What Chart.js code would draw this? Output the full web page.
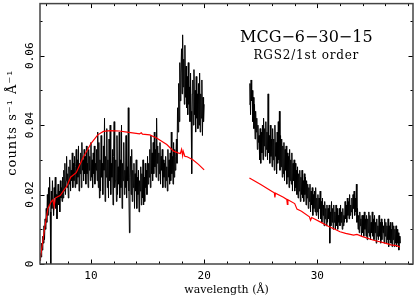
<!DOCTYPE html>
<html><head><meta charset="utf-8">
<script src="https://cdn.jsdelivr.net/npm/chart.js@4"></script>
<style>html,body{margin:0;padding:0;background:#fff;}canvas{display:block;}</style>
</head><body>
<div style="width:415px;height:295px;position:relative"><canvas id="c" width="415" height="295"></canvas></div>
<script>
// ---- data ----
const specAStart = 5.5;     // first bin wavelength (Å), short-wavelength segment
const specBStart = 24.0;    // first bin wavelength (Å), long-wavelength segment
const binWidth = 0.05;      // Å
const specA = [
 0.001,0.003,0.002,0.006,0.004,0.008,0.006,0.011,0.007,0.013,0.010,0.016,0.012,0.020,0.014,0.022,0.017,0.025,0.015,0.000,
 0.021,0.016,0.024,0.018,0.014,0.022,0.019,0.025,0.016,0.020,0.013,0.019,0.023,0.017,0.021,0.015,0.024,0.019,0.022,0.018,
 0.025,0.019,0.027,0.021,0.029,0.020,0.024,0.031,0.022,0.026,0.019,0.028,0.023,0.030,0.021,0.027,0.024,0.032,0.022,0.029,
 0.024,0.031,0.022,0.028,0.033,0.023,0.030,0.025,0.034,0.021,0.029,0.026,0.032,0.022,0.035,0.027,0.030,0.024,0.033,0.026,
 0.031,0.023,0.034,0.026,0.029,0.022,0.033,0.027,0.031,0.024,0.035,0.025,0.030,0.022,0.032,0.026,0.034,0.023,0.029,0.027,
 0.033,0.024,0.038,0.022,0.035,0.019,0.030,0.021,0.037,0.025,0.029,0.020,0.034,0.027,0.042,0.018,0.031,0.025,0.039,0.022,
 0.030,0.019,0.036,0.024,0.040,0.020,0.029,0.025,0.033,0.017,0.031,0.041,0.022,0.024,0.030,0.018,0.037,0.020,0.028,0.023,
 0.038,0.019,0.030,0.022,0.040,0.016,0.029,0.024,0.035,0.020,0.027,0.022,0.037,0.019,0.028,0.024,0.045,0.021,0.009,0.025,
 0.031,0.020,0.033,0.018,0.027,0.022,0.029,0.016,0.026,0.021,0.030,0.016,0.025,0.020,0.027,0.015,0.024,0.021,0.028,0.017,
 0.026,0.019,0.030,0.017,0.025,0.018,0.029,0.022,0.027,0.020,0.031,0.023,0.029,0.025,0.033,0.022,0.037,0.026,0.032,0.024,
 0.035,0.026,0.038,0.028,0.033,0.025,0.042,0.029,0.034,0.024,0.032,0.026,0.035,0.023,0.031,0.027,0.033,0.022,0.030,0.025,
 0.029,0.022,0.031,0.024,0.028,0.021,0.033,0.025,0.030,0.023,0.032,0.024,0.038,0.026,0.031,0.023,0.035,0.025,0.033,0.027,
 0.031,0.036,0.029,0.045,0.038,0.052,0.041,0.058,0.047,0.055,0.062,0.049,0.066,0.051,0.059,0.046,0.063,0.048,0.057,0.045,
 0.054,0.043,0.058,0.046,0.051,0.041,0.055,0.044,0.026,0.049,0.053,0.040,0.056,0.043,0.050,0.038,0.054,0.042,0.049,0.039,
 0.052,0.040,0.055,0.038,0.049,0.042,0.053,0.037,0.048,0.041,0.046
];
const specB = [
 0.046,0.052,0.043,0.053,0.047,0.050,0.041,0.048,0.039,0.046,0.036,0.044,0.038,0.042,0.033,0.040,0.035,0.037,0.030,0.039,
 0.029,0.038,0.032,0.040,0.030,0.042,0.034,0.039,0.031,0.041,0.033,0.038,0.030,0.049,0.032,0.037,0.029,0.040,0.031,0.036,
 0.028,0.039,0.030,0.036,0.027,0.040,0.031,0.035,0.026,0.038,0.029,0.041,0.030,0.044,0.027,0.037,0.028,0.036,0.025,0.034,
 0.026,0.035,0.024,0.033,0.027,0.034,0.023,0.032,0.025,0.031,0.022,0.033,0.024,0.030,0.023,0.032,0.021,0.029,0.024,0.030,
 0.021,0.029,0.022,0.027,0.020,0.028,0.019,0.026,0.021,0.027,0.018,0.025,0.020,0.027,0.019,0.024,0.018,0.026,0.020,0.025,
 0.017,0.024,0.019,0.023,0.016,0.022,0.018,0.023,0.015,0.021,0.017,0.022,0.014,0.020,0.016,0.021,0.015,0.022,0.014,0.019,
 0.015,0.020,0.013,0.019,0.016,0.021,0.013,0.018,0.012,0.019,0.014,0.017,0.011,0.018,0.013,0.016,0.011,0.017,0.012,0.016,
 0.013,0.017,0.006,0.015,0.011,0.018,0.012,0.016,0.010,0.017,0.012,0.015,0.010,0.017,0.011,0.016,0.010,0.014,0.012,0.016,
 0.011,0.017,0.012,0.015,0.010,0.016,0.011,0.014,0.012,0.018,0.013,0.017,0.012,0.019,0.014,0.018,0.013,0.020,0.014,0.017,
 0.015,0.019,0.013,0.020,0.016,0.021,0.014,0.019,0.015,0.023,0.012,0.016,0.010,0.014,0.009,0.015,0.011,0.013,0.008,0.014,
 0.009,0.014,0.008,0.015,0.010,0.013,0.008,0.014,0.007,0.013,0.009,0.015,0.008,0.014,0.007,0.012,0.009,0.015,0.008,0.013,
 0.007,0.014,0.009,0.012,0.006,0.013,0.008,0.011,0.007,0.014,0.008,0.012,0.006,0.013,0.007,0.012,0.009,0.011,0.006,0.013,
 0.008,0.012,0.006,0.011,0.007,0.013,0.005,0.011,0.007,0.012,0.006,0.010,0.005,0.012,0.007,0.011,0.005,0.010,0.006,0.011,
 0.005,0.010,0.006,0.009,0.004,0.008,0.006
];
const modelAWave = [5.5,5.9,6.2,6.5,6.65,6.75,6.85,7.3,7.9,8.2,8.7,9.3,10.0,10.6,11.1,11.7,12.5,13.2,14.3,14.45,14.55,15.2,15.8,16.7,17.3,17.7,17.9,18.0,18.1,18.15,18.3,18.5,19.0,19.5,20.0];
const modelAFlux = [0.001,0.010,0.016,0.018,0.0185,0.0165,0.019,0.0198,0.0226,0.025,0.0263,0.0306,0.0347,0.0372,0.0382,0.0384,0.0383,0.038,0.0375,0.0378,0.0374,0.0372,0.0363,0.0344,0.0325,0.032,0.0318,0.033,0.0312,0.0325,0.031,0.0309,0.0300,0.0287,0.0271];
const modelBWave = [24.0,25.0,26.0,26.2,26.25,26.3,27.0,27.3,27.35,27.4,28.0,28.2,28.6,29.3,29.4,29.5,30.5,31.0,31.5,32.0,32.5,33.2,33.5,34.0,34.9,35.5,36.0,36.5,37.0,37.3];
const modelBFlux = [0.0248,0.0229,0.0209,0.0205,0.0192,0.0204,0.0192,0.0186,0.0172,0.0185,0.0174,0.0158,0.0152,0.0136,0.0126,0.0134,0.0117,0.0108,0.0101,0.0093,0.0088,0.0083,0.0085,0.0079,0.0069,0.0064,0.0060,0.0055,0.0053,0.0049];

const xMajorTicks = [10, 20, 30];
const xMinorTicks = [6, 8, 12, 14, 16, 18, 22, 24, 26, 28, 32, 34, 36, 38];
const yMajorTicks = [0, 0.02, 0.04, 0.06];
const yMinorTicks = [0.01, 0.03, 0.05, 0.07];
const titleText = 'MCG\u22126\u221230\u221215';
const subtitleText = 'RGS2/1st order';
const xTitle = 'wavelength (\u00C5)';
const yTitle = 'counts s\u207B\u00B9 \u00C5\u207B\u00B9';

// ---- build ----
const toPts = (start, arr) => arr.map((v, i) => ({x: +(start + i * binWidth).toFixed(3), y: v}));
const pair = (w, f) => w.map((v, i) => ({x: v, y: f[i]}));

const decor = {
  id: 'decor',
  afterDatasetsDraw(chart) {
    const {ctx, chartArea: a, scales: {x, y}} = chart;
    ctx.save();
    ctx.strokeStyle = '#000'; ctx.lineWidth = 1;
    ctx.beginPath();
    const tx = (v, len) => { const p = Math.round(x.getPixelForValue(v)) + 0.5;
      ctx.moveTo(p, a.bottom); ctx.lineTo(p, a.bottom - len); ctx.moveTo(p, a.top); ctx.lineTo(p, a.top + len); };
    const ty = (v, len) => { const p = Math.round(y.getPixelForValue(v)) + 0.5;
      ctx.moveTo(a.left, p); ctx.lineTo(a.left + len, p); ctx.moveTo(a.right, p); ctx.lineTo(a.right - len, p); };
    xMajorTicks.forEach(v => tx(v, 4.5)); xMinorTicks.forEach(v => tx(v, 2.5));
    yMajorTicks.forEach(v => ty(v, 4.5)); yMinorTicks.forEach(v => ty(v, 2.5));
    ctx.stroke();
    ctx.strokeStyle = '#444'; ctx.lineWidth = 1.5;
    ctx.strokeRect(a.left, a.top, a.right - a.left, a.bottom - a.top);
    ctx.fillStyle = '#000'; ctx.textAlign = 'center'; ctx.textBaseline = 'middle';
    const cx = a.left + (a.right - a.left) * 0.714;
    ctx.font = '16px "DejaVu Serif"'; ctx.fillText(titleText, cx, a.top + 34.5);
    ctx.font = '12px "DejaVu Serif"'; ctx.letterSpacing = '0.8px'; ctx.fillText(subtitleText, cx, a.top + 52);
    // y axis title
    ctx.save();
    ctx.translate(13, a.top + (a.bottom - a.top) * 0.457);
    ctx.rotate(-Math.PI / 2);
    ctx.font = '13px "DejaVu Serif"'; ctx.letterSpacing = '1px';
    ctx.fillText(yTitle, 0, 0);
    ctx.restore();
    ctx.restore();
  }
};

new Chart(document.getElementById('c'), {
  type: 'line',
  data: {
    datasets: [
      {data: pair(modelAWave, modelAFlux), borderColor: '#ff0000', borderWidth: 1.2, pointRadius: 0, tension: 0},
      {data: pair(modelBWave, modelBFlux), borderColor: '#ff0000', borderWidth: 1.2, pointRadius: 0, tension: 0},
      {data: toPts(specAStart, specA), borderColor: '#000', borderWidth: 1, pointRadius: 0, tension: 0},
      {data: toPts(specBStart, specB), borderColor: '#000', borderWidth: 1, pointRadius: 0, tension: 0}
    ]
  },
  options: {
    responsive: false, animation: false, devicePixelRatio: 1,
    layout: {padding: {top: 1, right: 2, left: 0, bottom: 0}},
    plugins: {legend: {display: false}, tooltip: {enabled: false}},
    scales: {
      x: {type: 'linear', min: 5.5, max: 38.45,
        afterBuildTicks: s => { s.ticks = xMajorTicks.map(v => ({value: v})); },
        afterFit: s => { s.height = 31; },
        grid: {display: false, drawTicks: false}, border: {display: false},
        ticks: {padding: 6, color: '#000', maxRotation: 0, autoSkip: false, font: {family: 'DejaVu Sans Mono', size: 11}},
        title: {display: true, text: xTitle, color: '#000', font: {family: 'DejaVu Serif', size: 11}, padding: {top: 0, bottom: -2}}
      },
      y: {type: 'linear', min: 0, max: 0.075,
        afterBuildTicks: s => { s.ticks = yMajorTicks.map(v => ({value: v})); },
        afterFit: s => { s.width = 40; },
        grid: {display: false, drawTicks: false}, border: {display: false},
        ticks: {padding: -3, color: '#000', minRotation: 90, maxRotation: 90, crossAlign: 'center', autoSkip: false,
          font: {family: 'DejaVu Sans Mono', size: 11}, callback: v => String(v)},
        title: {display: false}
      }
    }
  },
  plugins: [decor]
});
</script>
</body></html>
